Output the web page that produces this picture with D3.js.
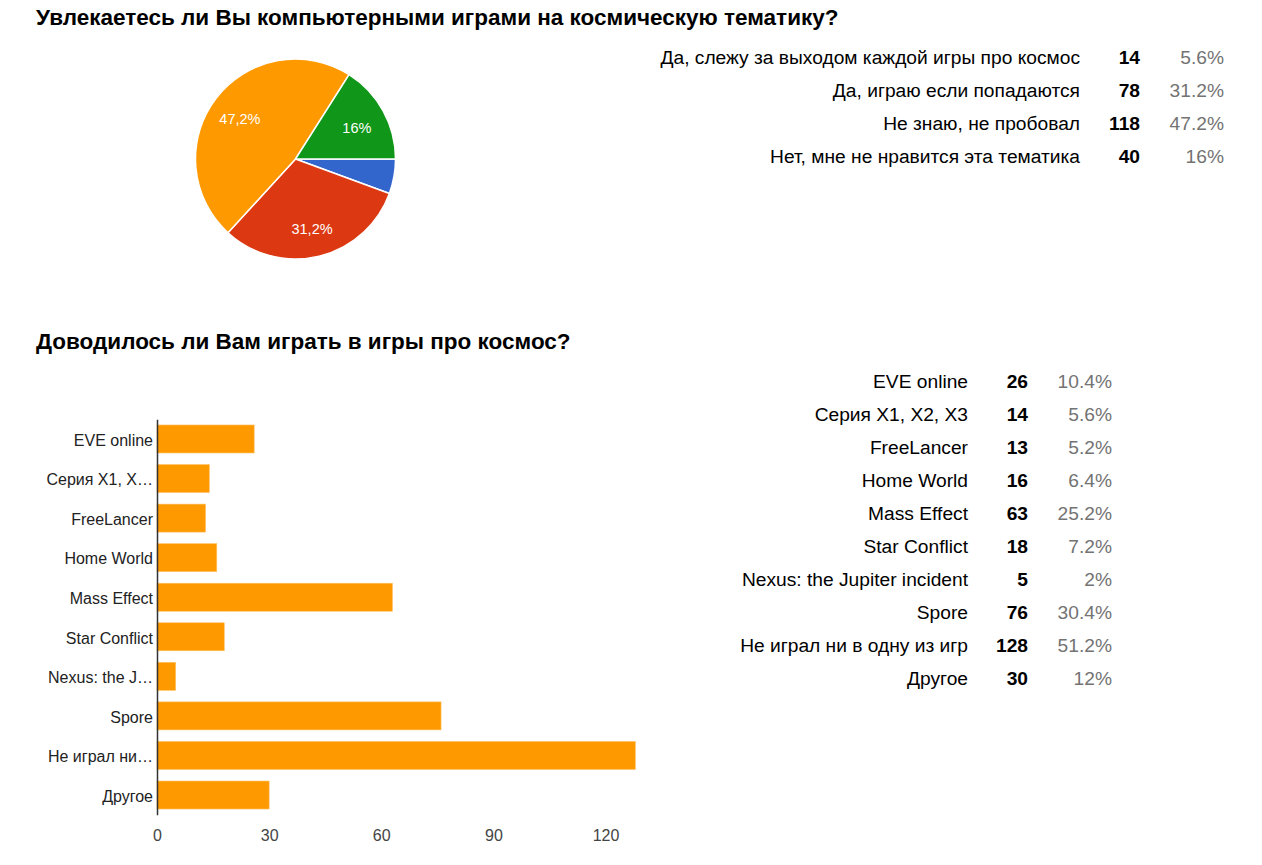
<!DOCTYPE html>
<html><head><meta charset="utf-8">
<script src="https://cdn.jsdelivr.net/npm/d3@7"></script>
<style>body{margin:0;background:#fff;}svg{display:block;font-family:"Liberation Sans",Arial,sans-serif;}</style>
</head><body>
<svg id="c" width="1262" height="865"></svg>
<script>
const title1 = "Увлекаетесь ли Вы компьютерными играми на космическую тематику?";
const title2 = "Доводилось ли Вам играть в игры про космос?";
const pieCategories = ["Да, слежу за выходом каждой игры про космос","Да, играю если попадаются","Не знаю, не пробовал","Нет, мне не нравится эта тематика"];
const pieValues = [14, 78, 118, 40];
const piePercents = ["5.6%","31.2%","47.2%","16%"];
const pieColors = ["#3366cc","#dc3912","#ff9900","#109618"];
const barCategories = ["EVE online","Серия X1, X2, X3","FreeLancer","Home World","Mass Effect","Star Conflict","Nexus: the Jupiter incident","Spore","Не играл ни в одну из игр","Другое"];
const barValues = [26, 14, 13, 16, 63, 18, 5, 76, 128, 30];
const barPercents = ["10.4%","5.6%","5.2%","6.4%","25.2%","7.2%","2%","30.4%","51.2%","12%"];
const xTicks = [0, 30, 60, 90, 120];

const svg = d3.select("#c");
svg.append("text").attr("x",36).attr("y",25).attr("font-size",22.5).attr("font-weight","bold").attr("fill","#000").text(title1);
svg.append("text").attr("x",36).attr("y",349).attr("font-size",22.5).attr("font-weight","bold").attr("fill","#000").text(title2);

// Pie
const total = d3.sum(pieValues);
const pie = d3.pie().sort(null).startAngle(Math.PI/2).endAngle(Math.PI/2 + 2*Math.PI);
const arcs = pie(pieValues);
const r = 100;
const arc = d3.arc().innerRadius(0).outerRadius(r);
const lab = d3.arc().innerRadius(r*0.7).outerRadius(r*0.7);
const pg = svg.append("g").attr("transform","translate(295.5,159)");
pg.selectAll("path").data(arcs).join("path").attr("d",arc).attr("fill",(d,i)=>pieColors[i]).attr("stroke","#fff").attr("stroke-width",1.5);
pg.selectAll("text").data(arcs.filter(d=>d.value/total>0.1)).join("text")
  .attr("transform",d=>`translate(${lab.centroid(d)})`).attr("text-anchor","middle").attr("dy","0.5em")
  .attr("font-size",14.5).attr("fill","#fff")
  .text(d=>(Math.round(d.value/total*1000)/10).toString().replace(".",",")+"%");

function table(cats, vals, pcts, x1, x2, x3, y0, step){
  const g = svg.append("g").attr("font-size",19.2);
  cats.forEach((c,i)=>{
    const y = y0 + i*step;
    g.append("text").attr("x",x1).attr("y",y).attr("dy","0.32em").attr("text-anchor","end").attr("fill","#000").text(c);
    g.append("text").attr("x",x2).attr("y",y).attr("dy","0.32em").attr("text-anchor","end").attr("font-weight","bold").attr("fill","#000").text(vals[i]);
    g.append("text").attr("x",x3).attr("y",y).attr("dy","0.32em").attr("text-anchor","end").attr("fill","#737373").text(pcts[i]);
  });
}
table(pieCategories, pieValues, piePercents, 1080, 1140, 1224, 58, 33);
table(barCategories, barValues, barPercents, 968, 1028, 1112, 382, 33);

// Bar chart
const x0 = 157;
const x = d3.scaleLinear().domain([0,120]).range([x0, x0 + 448.5]);
const y = d3.scaleBand().domain(barCategories).range([419.2, 814.8]).paddingInner(0.292).paddingOuter(0.146);
const bg = svg.append("g");
bg.selectAll("rect").data(barValues).join("rect")
  .attr("x",x(0)).attr("y",(d,i)=>y(barCategories[i])).attr("width",d=>x(d)-x(0)).attr("height",y.bandwidth())
  .attr("fill","#ff9900").attr("stroke","#ffc266").attr("stroke-width",0.6);
const yAxis = d3.axisLeft(y).tickSize(0).tickPadding(4);
const ya = svg.append("g").attr("transform",`translate(${x0},0)`).call(yAxis);
ya.select(".domain").attr("stroke","#333").attr("stroke-width",1.5);
ya.selectAll("text").attr("font-size",16).attr("dy","0.42em").attr("fill","#222").attr("font-family","'Liberation Sans',Arial,sans-serif")
  .each(function(){
    const t = d3.select(this); const full = t.text();
    if (this.getComputedTextLength() > 112){
      let s = full;
      while (s.length>1){ s = s.slice(0,-1); t.text(s.trimEnd()+"…"); if (this.getComputedTextLength()<=112) break; }
    }
  });
const xAxis = d3.axisBottom(x).tickValues(xTicks).tickSize(0).tickPadding(0);
const xa = svg.append("g").attr("transform","translate(0,841)").call(xAxis);
xa.select(".domain").remove();
xa.selectAll("text").attr("dy",0).attr("font-size",16).attr("fill","#444").attr("font-family","'Liberation Sans',Arial,sans-serif");
</script>
</body></html>
